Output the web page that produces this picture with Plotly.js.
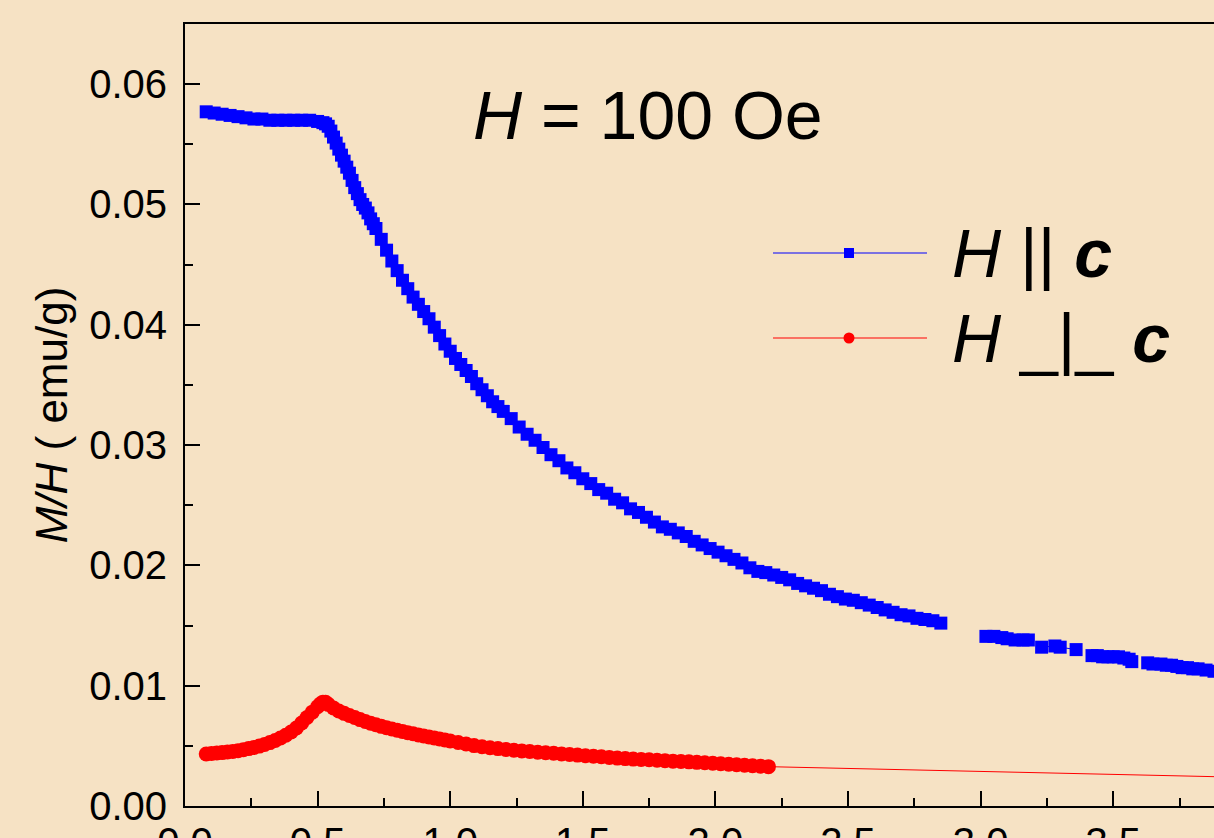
<!DOCTYPE html>
<html>
<head>
<meta charset="utf-8">
<script src="https://cdn.plot.ly/plotly-3.0.1.min.js"></script>
<style>
html,body{margin:0;padding:0;background:#F6E2C4;overflow:hidden;}
#chart{width:1214px;height:838px;}
</style>
</head>
<body>
<div id="chart"></div>
<script>
// Temperature-like x values (axis shows 0.0 ... 3.5) and M/H values (emu/g)
const blueT = [
 0.08,0.11,0.14,0.17,0.20,0.23,0.26,0.29,0.32,0.35,
 0.38,0.41,0.44,0.47,0.50,0.52,0.53,0.54,0.55,0.56,
 0.57,0.58,0.59,0.60,0.61,0.62,0.63,0.64,0.65,0.66,
 0.67,0.68,0.69,0.70,0.71,0.72,0.74,0.76,0.78,0.80,
 0.82,0.84,0.86,0.88,0.90,0.92,0.94,0.96,0.98,1.00,
 1.02,1.04,1.06,1.08,1.10,1.12,1.14,1.16,1.18,1.20,
 1.23,1.26,1.29,1.32,1.35,1.38,1.41,1.44,1.47,1.50,
 1.53,1.56,1.59,1.62,1.65,1.68,1.71,1.74,1.77,1.80,
 1.83,1.86,1.89,1.92,1.95,1.98,2.01,2.04,2.07,2.10,
 2.13,2.16,2.19,2.22,2.25,2.28,2.31,2.34,2.37,2.40,
 2.43,2.46,2.49,2.52,2.55,2.58,2.61,2.64,2.67,2.70,
 2.73,2.76,2.79,2.82,2.85,2.93,3.02,3.05,3.08,3.10,
 3.13,3.16,3.18,3.20,3.23,3.28,3.30,3.36,3.39,3.42,
 3.44,3.46,3.48,3.50,3.52,3.54,3.56,3.57,3.60,3.63,
 3.65,3.68,3.70,3.72,3.74,3.76,3.78,3.80,3.82,3.85,
 3.88
];
const blueMH = [
 0.0577,0.0576,0.0575,0.0574,0.0573,0.0572,0.0571,0.0571,0.0570,0.0570,
 0.0570,0.0570,0.0570,0.0570,0.0569,0.0568,0.0567,0.0565,0.0561,0.0556,
 0.0551,0.0546,0.0541,0.0536,0.0531,0.0526,0.0520,0.0514,0.0509,0.0504,
 0.0500,0.0497,0.0493,0.0488,0.0484,0.0480,0.0471,0.0462,0.0453,0.0445,
 0.0437,0.0430,0.0423,0.0417,0.0411,0.0405,0.0398,0.0391,0.0384,0.0378,
 0.0372,0.0367,0.0362,0.0357,0.0351,0.0346,0.0341,0.0336,0.0332,0.0328,
 0.0322,0.0315,0.0309,0.0304,0.0298,0.0292,0.0287,0.0281,0.0277,0.0272,
 0.0268,0.0263,0.0260,0.0255,0.0252,0.0247,0.0244,0.0240,0.0236,0.0232,
 0.0230,0.0227,0.0224,0.0220,0.0217,0.0214,0.0211,0.0208,0.0205,0.0202,
 0.0198,0.0195,0.0194,0.0192,0.0190,0.0188,0.0185,0.0183,0.0181,0.0179,
 0.0176,0.0174,0.0172,0.0171,0.0169,0.0167,0.0165,0.0163,0.0161,0.0159,
 0.0158,0.0156,0.0155,0.0154,0.0152,null,0.0141,0.0141,0.0140,0.0139,
 0.0138,0.0138,0.0138,null,0.0132,0.0133,0.0132,0.0130,null,0.0125,
 0.0125,0.0124,0.0124,0.0124,0.0124,0.0123,0.0122,0.0120,null,0.0119,
 0.0118,0.0118,0.0117,0.0117,0.0116,0.0115,0.0115,0.0114,0.0114,0.0113,
 0.0112
];
const redT = [
 0.08,0.10,0.12,0.14,0.16,0.18,0.20,0.22,0.24,0.26,
 0.28,0.30,0.32,0.34,0.36,0.38,0.40,0.42,0.44,0.46,
 0.48,0.50,0.51,0.52,0.53,0.54,0.56,0.58,0.60,0.62,
 0.64,0.66,0.68,0.70,0.72,0.74,0.76,0.78,0.80,0.82,
 0.84,0.86,0.88,0.90,0.92,0.94,0.96,0.98,1.00,1.03,
 1.06,1.09,1.12,1.15,1.18,1.21,1.24,1.27,1.30,1.33,
 1.36,1.39,1.42,1.45,1.48,1.51,1.54,1.57,1.60,1.63,
 1.66,1.69,1.72,1.75,1.78,1.81,1.84,1.87,1.90,1.93,
 1.96,1.99,2.02,2.05,2.08,2.11,2.14,2.17,2.20,4.20
];
const redMH = [
 0.00432,0.00436,0.00440,0.00444,0.00449,0.00454,0.00460,0.00468,0.00477,0.00487,
 0.00498,0.00511,0.00527,0.00545,0.00565,0.00588,0.00615,0.00648,0.00690,0.00735,
 0.00780,0.00825,0.00848,0.00863,0.00862,0.00845,0.00815,0.00790,0.00770,0.00752,
 0.00735,0.00718,0.00702,0.00688,0.00675,0.00662,0.00650,0.00640,0.00630,0.00620,
 0.00609,0.00600,0.00591,0.00582,0.00574,0.00566,0.00557,0.00548,0.00540,0.00528,
 0.00515,0.00502,0.00492,0.00484,0.00477,0.00470,0.00464,0.00458,0.00453,0.00447,
 0.00442,0.00438,0.00433,0.00428,0.00423,0.00418,0.00413,0.00409,0.00404,0.00398,
 0.00394,0.00390,0.00387,0.00384,0.00380,0.00377,0.00373,0.00370,0.00367,0.00363,
 0.00359,0.00355,0.00351,0.00347,0.00343,0.00339,0.00335,0.00331,0.00327,0.00228
];
const seriesNames = ['<i>H</i> || <b><i>c</i></b>', '<i>H</i> _|_ <b><i>c</i></b>'];
const fieldLabel = '<i>H</i> = 100 Oe';
const yTitle = '<i>M/H</i> ( emu/g)';
const xTickVals = [0, 0.5, 1.0, 1.5, 2.0, 2.5, 3.0, 3.5];
const xTickText = ['0.0','0.5','1.0','1.5','2.0','2.5','3.0','3.5'];

const BG = '#F6E2C4';
const FONT = 'Liberation Sans, Arial, sans-serif';
const W = 1214, H = 838;
const L = 185, T = 24, B = 32, R = 0;
const pw = W - L - R, ph = H - T - B;
const px2x = p => (p - L) / pw;
const px2y = p => (H - B - p) / ph;

const traces = [
  {x: blueT, y: blueMH, name: seriesNames[0], type: 'scatter', mode: 'lines+markers',
   line: {color: '#0000FF', width: 1}, marker: {symbol: 'square', size: 13, color: '#0000FF', line: {width: 0}},
   connectgaps: false, showlegend: false},
  {x: redT, y: redMH, name: seriesNames[1], type: 'scatter', mode: 'lines+markers',
   line: {color: '#FF0000', width: 1}, marker: {symbol: 'circle', size: 15, color: '#FF0000', line: {width: 0}},
   showlegend: false}
];

const legY1 = px2y(253), legY2 = px2y(338);
const legX0 = px2x(773), legX1 = px2x(927), legXm = px2x(849), legTx = px2x(950);

const layout = {
  width: W, height: H,
  paper_bgcolor: BG, plot_bgcolor: BG,
  margin: {l: L, r: R, t: T, b: B, pad: 0},
  font: {family: FONT, color: '#000'},
  showlegend: false,
  xaxis: {
    range: [0, 3.88], tickvals: xTickVals, ticktext: xTickText,
    ticks: 'inside', ticklen: 15, tickwidth: 2, tickcolor: '#000',
    minor: {dtick: 0.25, tick0: 0, ticks: 'inside', ticklen: 8, tickwidth: 2, tickcolor: '#000', showgrid: false},
    showline: true, linewidth: 2, linecolor: '#000', mirror: true,
    showgrid: false, zeroline: false, automargin: false,
    tickfont: {size: 40, family: FONT, color: '#000'}
  },
  yaxis: {
    range: [0, 0.065], dtick: 0.01, tick0: 0, tickformat: '.2f',
    ticks: 'inside', ticklen: 15, tickwidth: 2, tickcolor: '#000',
    minor: {dtick: 0.005, tick0: 0, ticks: 'inside', ticklen: 8, tickwidth: 2, tickcolor: '#000', showgrid: false},
    showline: true, linewidth: 2, linecolor: '#000', mirror: false,
    showgrid: false, zeroline: false, automargin: false,
    ticklabelstandoff: 8,
    tickfont: {size: 40, family: FONT, color: '#000'},
    title: {text: yTitle, font: {size: 44, family: FONT, color: '#000'}, standoff: 8}
  },
  shapes: [
    {type: 'line', xref: 'paper', yref: 'paper', x0: legX0, x1: legX1, y0: legY1, y1: legY1, line: {color: '#0000FF', width: 1}},
    {type: 'rect', xref: 'paper', yref: 'paper', xsizemode: 'pixel', ysizemode: 'pixel', xanchor: legXm, yanchor: legY1,
     x0: -5, x1: 5, y0: -5, y1: 5, fillcolor: '#0000FF', line: {width: 0}},
    {type: 'line', xref: 'paper', yref: 'paper', x0: legX0, x1: legX1, y0: legY2, y1: legY2, line: {color: '#FF0000', width: 1}},
    {type: 'circle', xref: 'paper', yref: 'paper', xsizemode: 'pixel', ysizemode: 'pixel', xanchor: legXm, yanchor: legY2,
     x0: -5.5, x1: 5.5, y0: -5.5, y1: 5.5, fillcolor: '#FF0000', line: {width: 0}}
  ],
  annotations: [
    {text: fieldLabel, xref: 'paper', yref: 'paper', x: px2x(648), y: px2y(115), xanchor: 'center', yanchor: 'middle',
     showarrow: false, font: {size: 68, family: FONT, color: '#000'}},
    {text: seriesNames[0], xref: 'paper', yref: 'paper', x: legTx, y: legY1, xanchor: 'left', yanchor: 'middle',
     showarrow: false, font: {size: 68, family: FONT, color: '#000'}},
    {text: seriesNames[1], xref: 'paper', yref: 'paper', x: legTx, y: legY2, xanchor: 'left', yanchor: 'middle',
     showarrow: false, font: {size: 68, family: FONT, color: '#000'}}
  ]
};

Plotly.newPlot('chart', traces, layout, {displayModeBar: false, staticPlot: true});
</script>
</body>
</html>
